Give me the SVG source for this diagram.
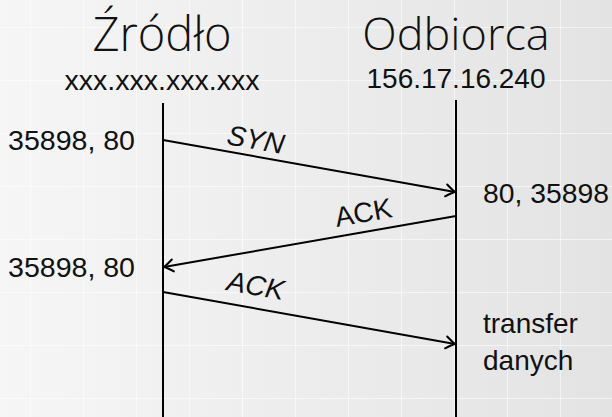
<svg xmlns="http://www.w3.org/2000/svg" width="612" height="417" viewBox="0 0 612 417">
<defs>
<linearGradient id="bg" x1="0" y1="0" x2="1" y2="0">
<stop offset="0" stop-color="#f6f6f6"/>
<stop offset="1" stop-color="#e3e3e3"/>
</linearGradient>
<pattern id="grid" x="30" y="27" width="53" height="53" patternUnits="userSpaceOnUse">
<path d="M0 0 V53 M0 0 H53" stroke="#ffffff" stroke-opacity="0.75" stroke-width="1.5" fill="none"/>
</pattern>
<marker id="arr" markerUnits="userSpaceOnUse" markerWidth="20" markerHeight="20" refX="0" refY="0" viewBox="-12 -10 14 20" orient="auto" overflow="visible">
<path d="M-9 -6 Q-3 -1.5 0 0 Q-3 1.5 -9 6" fill="none" stroke="#000" stroke-width="2" stroke-linecap="round"/>
</marker>
</defs>
<style>
.t{font-family:"Liberation Sans",Arial,sans-serif;fill:#111}
.big{font-family:"Open Sans","Liberation Sans",sans-serif;font-size:47px;font-weight:300}
.mid{font-size:28px}
.it{font-style:italic}
.life{stroke:#000;stroke-width:2;fill:none}
.msg{stroke:#000;stroke-width:2;fill:none;marker-end:url(#arr)}
</style>
<rect width="612" height="417" fill="url(#bg)"/>
<rect width="612" height="417" fill="url(#grid)"/>

<g id="zrodlo">
<text class="t big" x="162" y="51" text-anchor="middle">Źródło</text>
<text class="t mid" x="162" y="90" text-anchor="middle" textLength="195" lengthAdjust="spacingAndGlyphs">xxx.xxx.xxx.xxx</text>
<line class="life" x1="163" y1="103" x2="163" y2="417"/>
</g>

<g id="odbiorca">
<text class="t big" x="456" y="50" text-anchor="middle" style="font-size:45px">Odbiorca</text>
<text class="t mid" x="456" y="88" text-anchor="middle" textLength="179" lengthAdjust="spacingAndGlyphs">156.17.16.240</text>
<line class="life" x1="456" y1="100" x2="456" y2="417"/>
</g>

<g id="labels">
<text class="t mid" x="8" y="150" textLength="127" lengthAdjust="spacingAndGlyphs">35898, 80</text>
<text class="t mid" x="483" y="203" textLength="126" lengthAdjust="spacingAndGlyphs">80, 35898</text>
<text class="t mid" x="8" y="277" textLength="127" lengthAdjust="spacingAndGlyphs">35898, 80</text>
<text class="t mid" x="483" y="333">transfer</text>
<text class="t mid" x="483" y="370">danych</text>
</g>

<g id="connectors">
<line class="msg" x1="163" y1="140" x2="455" y2="192"/>
<line class="msg" x1="456" y1="216" x2="164" y2="267"/>
<line class="msg" x1="163" y1="292" x2="455" y2="344"/>
<text class="t mid it" transform="translate(254,149) rotate(10.1)" text-anchor="middle">SYN</text>
<text class="t mid" transform="translate(365,222) rotate(-10)" text-anchor="middle">ACK</text>
<text class="t mid it" transform="translate(254,295) rotate(10.1)" text-anchor="middle">ACK</text>
</g>
</svg>
